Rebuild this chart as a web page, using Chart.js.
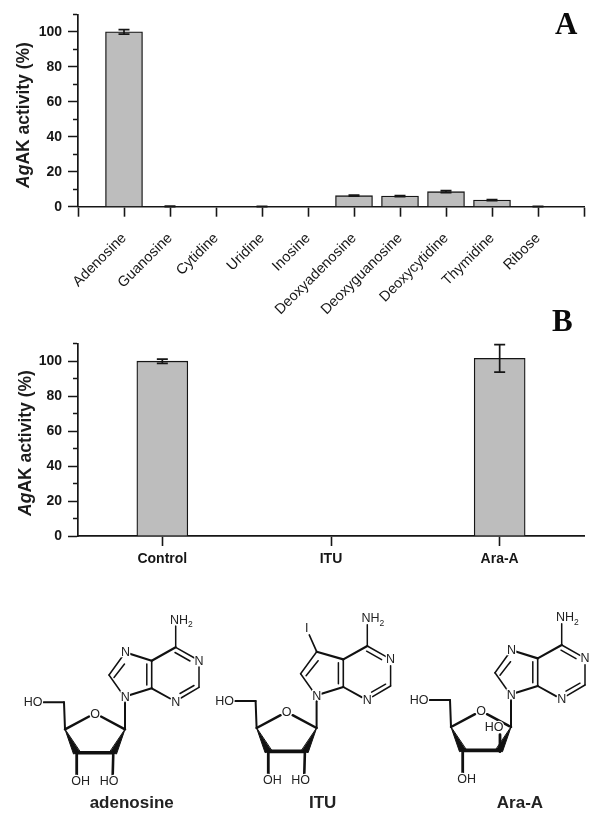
<!DOCTYPE html>
<html>
<head>
<meta charset="utf-8">
<script src="https://cdn.jsdelivr.net/npm/chart.js@4/dist/chart.umd.min.js"></script>
<style>
html,body{margin:0;padding:0;background:#fff;}
#page{position:relative;width:602px;height:818px;overflow:hidden;}
canvas{position:absolute;left:0;}
.ytitle{position:absolute;font:bold 17.5px "Liberation Sans",Arial,sans-serif;color:#1c1c1c;white-space:nowrap;transform:translate(-50%,-50%) rotate(-90deg);}
.panel{position:absolute;font:bold 31px "Liberation Serif",serif;color:#0a0a0a;line-height:1;}
svg{position:absolute;left:0;top:0;}
</style>
</head>
<body>
<div id="page">
  <canvas id="chartA" width="602" height="340" style="top:0"></canvas>
  <canvas id="chartB" width="602" height="270" style="top:300px"></canvas>
  <div class="ytitle" style="left:23px;top:114.5px"><i>Ag</i>AK activity (%)</div>
  <div class="ytitle" style="left:25px;top:443px"><i>Ag</i>AK activity (%)</div>
  <div class="panel" style="left:555px;top:8px">A</div>
  <div class="panel" style="left:552px;top:305px">B</div>
  <svg id="mol" width="602" height="818"></svg>
</div>
<script>
// ---- Data ----
const categoriesA = ['Adenosine','Guanosine','Cytidine','Uridine','Inosine','Deoxyadenosine','Deoxyguanosine','Deoxycytidine','Thymidine','Ribose'];
const valuesA = [100, 0, 0, 0, 0, 6.3, 6.1, 8.6, 3.8, 0];
const errorsA = [1.3, 0.3, 0, 0.2, 0, 0.3, 0.3, 0.6, 0.3, 0.2];
const categoriesB = ['Control','ITU','Ara-A'];
const valuesB = [100, 0, 101.6];
const errorsB = [1.2, 0, 7.9];
const yMax = 110;
const yStep = 10;
const yLabelStep = 20;

const INK = '#161616';
const FILL = '#bdbdbd';
const errorBars = {
  id: 'errorBars',
  afterDatasetsDraw(chart, args, opts) {
    const ctx = chart.ctx, y = chart.scales.y;
    const bars = chart.getDatasetMeta(0).data;
    ctx.save();
    ctx.strokeStyle = INK;
    ctx.lineWidth = 1.7;
    opts.errors.forEach((err, i) => {
      if (!err) return;
      const bar = bars[i + opts.first];
      const v = chart.data.datasets[0].data[i + opts.first];
      const top = y.getPixelForValue(v + err), low = y.getPixelForValue(Math.max(v - err, 0));
      ctx.beginPath();
      ctx.moveTo(bar.x, top); ctx.lineTo(bar.x, low);
      ctx.moveTo(bar.x - opts.cap, top); ctx.lineTo(bar.x + opts.cap, top);
      ctx.moveTo(bar.x - opts.cap, low); ctx.lineTo(bar.x + opts.cap, low);
      ctx.stroke();
    });
    ctx.restore();
  }
};

function yScale(axisWidth) {
  return {
    min: 0, max: yMax,
    afterFit: s => { s.width = axisWidth; },
    border: {color: INK, width: 1.7},
    grid: {
      drawOnChartArea: false, tickLength: 10, tickColor: INK, tickWidth: 1.5,
      tickBorderDash: c => (c.tick && c.tick.value % yLabelStep) ? [5, 5] : [],
      tickBorderDashOffset: c => (c.tick && c.tick.value % yLabelStep) ? 5 : 0
    },
    ticks: {
      stepSize: yStep, autoSkip: false, padding: 6, color: INK,
      font: {family: '"Liberation Sans"', size: 14, weight: 'bold'},
      callback: v => (v % yLabelStep === 0 ? String(v) : '')
    }
  };
}

new Chart(document.getElementById('chartA'), {
  type: 'bar',
  data: {
    labels: ['', ...categoriesA, ''],
    datasets: [{data: [null, ...valuesA, null], backgroundColor: FILL, borderColor: INK, borderWidth: 1.3, barThickness: 37}]
  },
  options: {
    responsive: false, animation: false,
    layout: {padding: {top: 14.3, right: 18, left: 0, bottom: 0}},
    plugins: {legend: {display: false}, tooltip: {enabled: false}, errorBars: {errors: errorsA, first: 1, cap: 5.5}},
    scales: {
      x: {
        offset: false,
        afterFit: s => { s.height = 133.3; s.paddingLeft = 0; s.paddingRight = 0; },
        border: {color: INK, width: 1.6},
        grid: {drawOnChartArea: false, offset: false, tickLength: 10, tickColor: INK, tickWidth: 1.6},
        ticks: {autoSkip: false, minRotation: 45, maxRotation: 45, padding: 13, color: INK,
                font: {family: '"Liberation Sans"', size: 14.5}}
      },
      y: yScale(78)
    }
  },
  plugins: [errorBars]
});

new Chart(document.getElementById('chartB'), {
  type: 'bar',
  data: {
    labels: categoriesB,
    datasets: [{data: valuesB, backgroundColor: FILL, borderColor: INK, borderWidth: 1.3, barThickness: 51}]
  },
  options: {
    responsive: false, animation: false,
    layout: {padding: {top: 43.7, right: 18, left: 0, bottom: 0}},
    plugins: {legend: {display: false}, tooltip: {enabled: false}, errorBars: {errors: errorsB, first: 0, cap: 5.5}},
    scales: {
      x: {
        afterFit: s => { s.height = 34; s.paddingLeft = 0; s.paddingRight = 0; },
        border: {color: INK, width: 1.8},
        grid: {drawOnChartArea: false, offset: false, tickLength: 10, tickColor: INK, tickWidth: 1.6},
        ticks: {autoSkip: false, maxRotation: 0, padding: 5, color: INK,
                font: {family: '"Liberation Sans"', size: 14, weight: 'bold'}}
      },
      y: yScale(78)
    }
  },
  plugins: [errorBars]
});

// ---- Structure drawings beneath the charts (not data) ----
function L(a, b, c, d, w) { return `<line x1="${a}" y1="${b}" x2="${c}" y2="${d}" stroke-width="${w || 1.5}"/>`; }
function T(x, y, s, anchor) { return `<text x="${x}" y="${y}" text-anchor="${anchor || 'middle'}" dominant-baseline="central">${s}</text>`; }
function molecule(dx, dy, kind, name, nameX) {
  let g = '';
  // six-membered ring
  g += L(175.7,647.3,175.7,626) + L(175.7,647.3,194.5,658) + L(175,652.5,190,661) + L(199,667,199,687.3)
     + L(199,687.3,181,698) + L(194,685.5,180,693.5) + L(170,698.5,151.7,688.3,1.9)
     + L(151.7,688.3,151.7,660.7,1.6) + L(146.8,685,146.8,664) + L(151.7,660.7,175.7,647.3,2.2);
  if (kind === 'itu') {
    g += L(151.7,660.7,125.1,653,2.2) + L(125.1,653,109,675) + L(126.5,662,114.5,677)
       + L(125.1,653,117.7,636.3,1.7) + T(115.1,629.5,'I');
  } else {
    g += L(151.7,660.7,130.5,654,2.2) + L(122,657,109,675) + L(124.5,664,114,677.5);
    g += T(125.5,652.3,'N');
  }
  g += L(109,675,121,692) + L(130,695,151.7,688.3,2.2) + L(125,702.5,125,729.3,2);
  g += T(125.2,697,'N') + T(199,660.7,'N') + T(175.7,701.7,'N');
  g += T(179,619.5,'NH') + `<text x="188" y="624" font-size="8.5" dominant-baseline="central">2</text>`;
  // ribose
  g += L(125,729.3,101,716.5,2.5) + L(89,716.5,65,729.3,2.5) + L(65,729.3,64,702.3,2) + L(64,702.3,43,702.3,2);
  g += T(95,713.5,'O') + T(33,702.3,'HO');
  g += `<polygon points="65,729.3 73.5,754 80,752"/><polygon points="125,729.3 116.5,754 110,752"/>`;
  g += L(76.7,752.7,113.3,752.7,3.6) + L(76.7,752.7,76.7,775,2.8);
  g += T(80.7,781,'OH');
  if (kind === 'ara') {
    g += L(114,754,114,737,2.8) + T(108,729.5,'HO');
  } else {
    g += L(113.3,752.7,112.7,775,2.6) + T(109,781,'HO');
  }
  return `<g transform="translate(${dx} ${dy})">${g}</g>` +
    `<text x="${nameX}" y="802" text-anchor="middle" dominant-baseline="central" font-size="17" font-weight="bold" stroke="none" fill="#151515">${name}</text>`;
}
document.getElementById('mol').innerHTML =
  `<g stroke="#111" fill="#111" stroke-linecap="round" font-family="Liberation Sans" font-size="12.5">` +
  `<style>text{stroke:#fff;stroke-width:2.5px;paint-order:stroke;fill:#222;}</style>` +
  molecule(0, 0, 'ado', 'adenosine', 131.7) +
  molecule(191.6, -1.3, 'itu', 'ITU', 322.7) +
  molecule(386, -2.3, 'ara', 'Ara-A', 520) +
  `</g>`;
</script>
</body>
</html>
